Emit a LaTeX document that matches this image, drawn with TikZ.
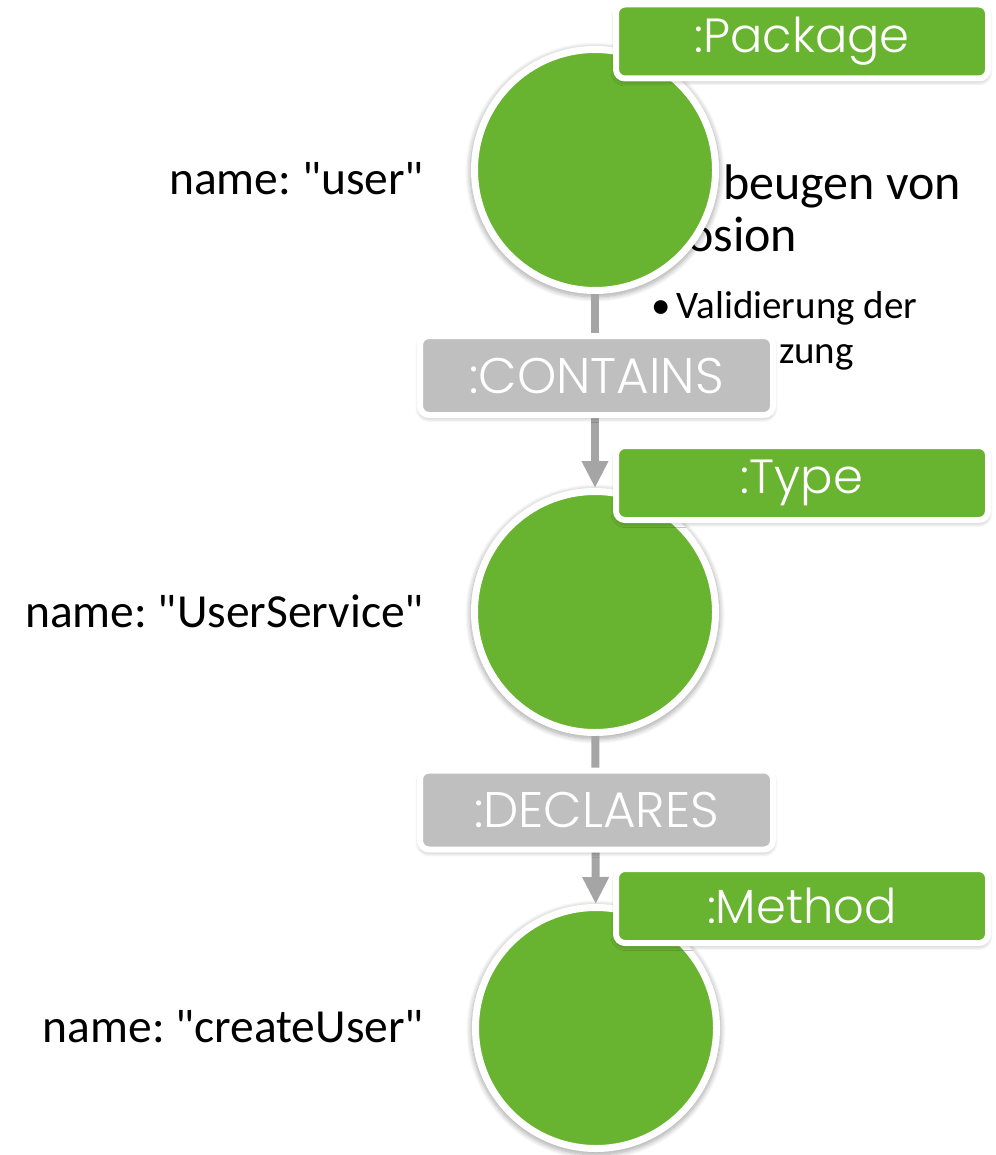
\documentclass[tikz,border=0pt]{standalone}
\usepackage{fontspec}
\newfontfamily\bodyfont{Carlito}
\newfontfamily\lblfont{Poppins Light}
\usetikzlibrary{arrows.meta,shadows,shadows.blur}
\frenchspacing

\definecolor{nodegreen}{HTML}{68B32F}
\definecolor{relgrey}{HTML}{BFBFBF}
\definecolor{linegrey}{HTML}{A5A5A5}

\tikzset{
  roundshadow/.style={blur shadow={shadow xshift=0pt, shadow yshift=-2pt,
    shadow scale=1.035, shadow blur radius=5pt, shadow blur steps=10, shadow opacity=35}},
  boxshadow/.style={blur shadow={shadow xshift=0pt, shadow yshift=-2.5pt,
    shadow blur radius=5pt, shadow blur steps=10, shadow opacity=35}},
  entity/.style={circle, fill=nodegreen, draw=white, line width=7pt,
    minimum size=241pt, inner sep=0pt, roundshadow},
  typelabel/.style={rectangle, rounded corners=9pt, fill=nodegreen, draw=white,
    line width=6pt, minimum width=372pt, minimum height=74pt, inner sep=0pt,
    text=white, font=\lblfont\fontsize{48}{54}\selectfont, boxshadow},
  rellabel/.style={rectangle, rounded corners=9pt, fill=relgrey, draw=white,
    line width=6pt, minimum width=353pt, minimum height=79pt, inner sep=0pt,
    text=white, font=\lblfont\fontsize{50}{56}\selectfont, boxshadow},
  rel/.style={draw=linegrey, line width=8pt, -{Triangle[length=27pt,width=25pt]}},
  propname/.style={anchor=base east, inner sep=0pt, font=\bodyfont\fontsize{47.5}{57}\selectfont},
  slidetext/.style={anchor=base west, inner sep=0pt},
}

\begin{document}
\begin{tikzpicture}[x=1pt,y=-1pt]
  \useasboundingbox (0,0) rectangle (995,1155);

  % slide text lying underneath the graph
  \node[slidetext, font=\bodyfont\fontsize{50}{60}\selectfont] (t1) at (723,200) {beugen von};
  \node[slidetext, font=\bodyfont\fontsize{50}{60}\selectfont] (t2) at (687,252) {osion};
  \node[slidetext, font=\bodyfont\fontsize{39}{47}\selectfont] (t3) at (651,318) {•\hspace{6pt}Validierung der};
  \node[slidetext, font=\bodyfont\fontsize{39}{47}\selectfont] (t4) at (779,363) {zung};

  % entities
  \node[entity] (pkg) at (595,170) {};
  \node[entity] (type) at (595,612) {};
  \node[entity] (meth) at (596,1028) {};

  % relationships
  \draw[rel] (pkg) -- (type);
  \draw[rel] (type) -- (meth);

  % relationship types
  \node[rellabel] (contains) at (596.5,375.5) {:CONTAINS};
  \node[rellabel] (declares) at (596.5,810) {:DECLARES};

  % labels
  \node[typelabel] (lpkg) at (802,41.5) {:Package};
  \node[typelabel] (ltype) at (802,483) {:Type};
  \node[typelabel] (lmeth) at (802,906) {:Method};

  % properties
  \node[propname] (ppkg) at (424,195) {name: "user"};
  \node[propname] (ptype) at (424,627) {name: "UserService"};
  \node[propname] (pmeth) at (424,1042) {name: "createUser"};
\end{tikzpicture}
\end{document}
